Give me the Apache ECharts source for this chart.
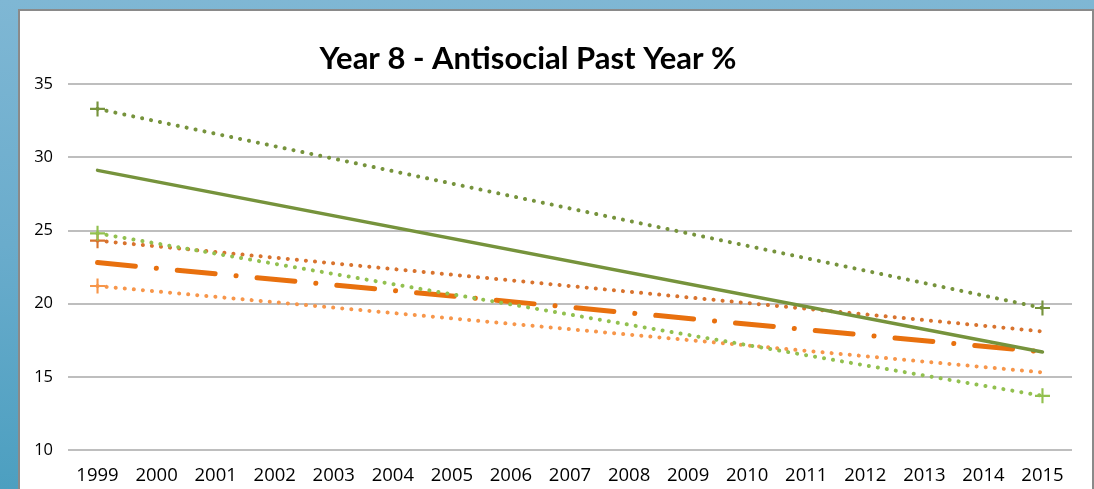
<!DOCTYPE html>
<html>
<head>
<meta charset="utf-8">
<script src="https://cdn.jsdelivr.net/npm/echarts@6/dist/echarts.min.js"></script>
<style>
  html, body { margin: 0; padding: 0; }
  body {
    width: 1094px; height: 489px; overflow: hidden;
    background: linear-gradient(to bottom, #7fb7d4 0%, #6aaccc 50%, #4c9fc0 100%);
  }
  #frame {
    position: absolute; left: 18px; top: 9px;
    width: 1072px; height: 490px;
    background: #fff;
    border: 2px solid #8a8a8a; border-bottom: none;
  }
  #chart { width: 1072px; height: 480px; }
</style>
</head>
<body>
<div id="frame"><div id="chart"></div></div>
<script>
  // categories
  var years = ['1999','2000','2001','2002','2003','2004','2005','2006','2007','2008',
               '2009','2010','2011','2012','2013','2014','2015'];
  var yTicks = [10, 15, 20, 25, 30, 35];

  // values (only the end points are drawn)
  var greenUpper  = [33.3, null, null, null, null, null, null, null, null, null, null, null, null, null, null, null, 19.7];
  var greenTrend  = [29.1, null, null, null, null, null, null, null, null, null, null, null, null, null, null, null, 16.7];
  var greenLower  = [24.8, null, null, null, null, null, null, null, null, null, null, null, null, null, null, null, 13.7];
  var orangeUpper = [24.3, null, null, null, null, null, null, null, null, null, null, null, null, null, null, null, 18.1];
  var orangeTrend = [22.8, null, null, null, null, null, null, null, null, null, null, null, null, null, null, null, 16.7];
  var orangeLower = [21.2, null, null, null, null, null, null, null, null, null, null, null, null, null, null, null, 15.3];

  var plus = 'path://M0,6H14V8H0Z M6,0H8V14H6Z';
  var dotted = [0.1, 9];

  // builds the data with a "+" only at the listed indexes
  function withMarks(values, marks) {
    return values.map(function (v, i) {
      if (v == null) return null;
      return { value: v, symbol: marks.indexOf(i) >= 0 ? plus : 'none' };
    });
  }

  function line(name, values, color, width, type, marks) {
    return {
      name: name,
      type: 'line',
      data: withMarks(values, marks),
      connectNulls: true,
      symbolSize: 15,
      showAllSymbol: true,
      itemStyle: { color: color },
      lineStyle: { color: color, width: width, type: type, cap: 'round' },
      emphasis: { disabled: true },
      silent: true
    };
  }

  var chart = echarts.init(document.getElementById('chart'));
  chart.setOption({
    animation: false,
    title: {
      text: 'Year 8 - Antisocial Past Year %',
      left: 503,
      top: 27,
      textAlign: 'center',
      textStyle: { fontFamily: 'Lato', fontWeight: 'bold', fontSize: 31, color: '#000' }
    },
    grid: { left: 48, top: 73, width: 1004, height: 366 },
    xAxis: {
      type: 'category',
      data: years,
      boundaryGap: true,
      axisLine: { show: false },
      axisTick: { show: false },
      axisLabel: { color: '#000', fontFamily: 'Open Sans', fontSize: 18.5, margin: 16, interval: 0 }
    },
    yAxis: {
      type: 'value',
      min: yTicks[0],
      max: yTicks[yTicks.length - 1],
      interval: 5,
      axisLine: { show: false },
      axisTick: { show: false },
      axisLabel: { color: '#000', fontFamily: 'Open Sans', fontSize: 16.5, margin: 15 },
      splitLine: { lineStyle: { color: '#a8a8a8', width: 1.5 } }
    },
    series: [
      line('Orange upper', orangeUpper, '#d8732e', 4, dotted, [0]),
      line('Orange trend', orangeTrend, '#e8700e', 5, [38, 21, 0.1, 21], []),
      line('Orange lower', orangeLower, '#f7964a', 4, dotted, [0]),
      line('Green upper', greenUpper, '#76933c', 4, dotted, [0, 16]),
      line('Green lower', greenLower, '#92c04f', 4, dotted, [0, 16]),
      line('Green trend', greenTrend, '#76933c', 3.5, 'solid', [])
    ]
  });
</script>
</body>
</html>
